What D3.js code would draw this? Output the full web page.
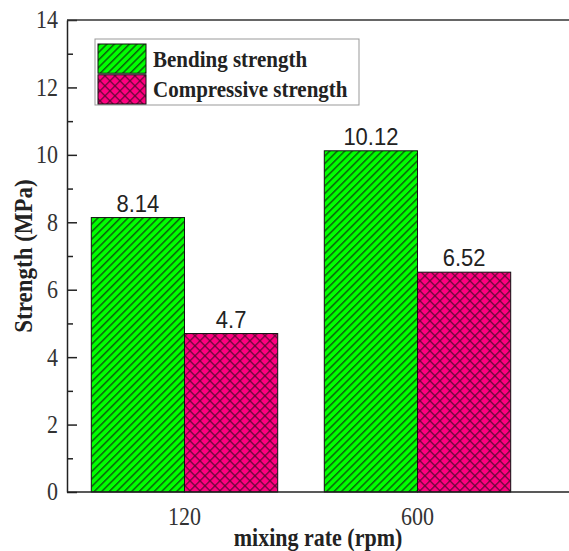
<!DOCTYPE html>
<html>
<head>
<meta charset="utf-8">
<script src="https://cdn.jsdelivr.net/npm/d3@7"></script>
<style>
  html, body { margin: 0; padding: 0; background: #fff; }
  svg { display: block; }
</style>
</head>
<body>
<svg id="chart" width="569" height="551"></svg>
<script>
const categories = ["120", "600"];
const seriesNames = ["Bending strength", "Compressive strength"];
const bendingValues = [8.14, 10.12];
const compressiveValues = [4.7, 6.52];
const valueLabels = [["8.14", "10.12"], ["4.7", "6.52"]];
const yTicks = [0, 2, 4, 6, 8, 10, 12, 14];
const yMinorTicks = [1, 3, 5, 7, 9, 11, 13];

const plot = { left: 67, top: 20, right: 575, bottom: 492 };
const svg = d3.select("#chart");
const serif = "'Liberation Serif', 'Times New Roman', serif";
const sans = "'Liberation Sans', Arial, sans-serif";
const fills = ["#00ff00", "#ff0080"];
const SY = 1.12; // vertical stretch of glyphs as in the reference

// place a text at (x,y) with a slight vertical stretch
function placed(sel, x, yy) {
  return sel.attr("x", 0).attr("y", 0)
    .attr("transform", `translate(${x},${yy}) scale(1,${SY})`);
}

// patterns
const defs = svg.append("defs");
const pg = defs.append("pattern").attr("id", "hatchGreen")
  .attr("patternUnits", "userSpaceOnUse").attr("width", 5.3).attr("height", 5.3)
  .attr("patternTransform", "rotate(45)");
pg.append("rect").attr("width", 5.3).attr("height", 5.3).attr("fill", fills[0]);
pg.append("line").attr("x1", 0.75).attr("y1", 0).attr("x2", 0.75).attr("y2", 5.3)
  .attr("stroke", "#0b5f0b").attr("stroke-width", 1.5);

const pp = defs.append("pattern").attr("id", "hatchPink")
  .attr("patternUnits", "userSpaceOnUse").attr("width", 7.07).attr("height", 7.07)
  .attr("patternTransform", "rotate(45)");
pp.append("rect").attr("width", 7.07).attr("height", 7.07).attr("fill", fills[1]);
pp.append("line").attr("x1", 0.6).attr("y1", 0).attr("x2", 0.6).attr("y2", 7.07)
  .attr("stroke", "#5a0a32").attr("stroke-width", 1.2);
pp.append("line").attr("x1", 0).attr("y1", 0.6).attr("x2", 7.07).attr("y2", 0.6)
  .attr("stroke", "#5a0a32").attr("stroke-width", 1.2);
const patternIds = ["url(#hatchGreen)", "url(#hatchPink)"];

// scales
const x0 = d3.scaleBand().domain(categories).range([68, 534])
  .paddingInner(0.2).paddingOuter(0.1);
const x1 = d3.scaleBand().domain(seriesNames).range([0, x0.bandwidth()]).padding(0);
const y = d3.scaleLinear().domain([0, 14]).range([plot.bottom, plot.top]);

const seriesValues = [bendingValues, compressiveValues];

// bars
seriesNames.forEach((s, si) => {
  const g = svg.append("g");
  g.selectAll("rect").data(categories).join("rect")
    .attr("x", (c) => x0(c) + x1(s))
    .attr("y", (c, i) => y(seriesValues[si][i]))
    .attr("width", x1.bandwidth())
    .attr("height", (c, i) => y(0) - y(seriesValues[si][i]))
    .attr("fill", patternIds[si])
    .attr("stroke", "#111").attr("stroke-width", 1);
  g.selectAll("text").data(categories).join("text")
    .attr("x", 0).attr("y", 0)
    .attr("transform", (c, i) =>
      `translate(${x0(c) + x1(s) + x1.bandwidth() / 2},${y(seriesValues[si][i]) - 6}) scale(1,${SY})`)
    .attr("text-anchor", "middle")
    .attr("font-family", sans).attr("font-size", 22).attr("fill", "#222")
    .text((c, i) => valueLabels[si][i]);
});

// y axis
const yAxis = d3.axisLeft(y).tickValues(yTicks).tickFormat(d3.format("d"))
  .tickSizeInner(-10).tickSizeOuter(0).tickPadding(9);
const gy = svg.append("g").attr("transform", `translate(${plot.left},0)`).call(yAxis);
gy.select(".domain").attr("stroke", "#222").attr("stroke-width", 1.5);
gy.selectAll(".tick line").attr("stroke", "#222").attr("stroke-width", 1.5);
gy.selectAll(".tick text").attr("font-family", serif).attr("font-size", 22).attr("fill", "#333")
  .attr("transform", `scale(1,${SY})`);

const yMinor = d3.axisLeft(y).tickValues(yMinorTicks).tickFormat("")
  .tickSizeInner(-6).tickSizeOuter(0);
const gym = svg.append("g").attr("transform", `translate(${plot.left},0)`).call(yMinor);
gym.select(".domain").remove();
gym.selectAll(".tick line").attr("stroke", "#222").attr("stroke-width", 1.5);

// x axis line and top frame
svg.append("line").attr("x1", plot.left).attr("x2", plot.right)
  .attr("y1", plot.bottom).attr("y2", plot.bottom).attr("stroke", "#222").attr("stroke-width", 1.5);
svg.append("line").attr("x1", plot.left).attr("x2", plot.right)
  .attr("y1", plot.top).attr("y2", plot.top).attr("stroke", "#333").attr("stroke-width", 1.5);

const xAxis = d3.axisBottom(x0).tickSize(0).tickPadding(0);
const gx = svg.append("g").attr("transform", `translate(0,${plot.bottom})`).call(xAxis);
gx.select(".domain").remove();
gx.selectAll(".tick text").attr("dy", null).attr("y", 0)
  .attr("transform", `translate(0,33) scale(1,${SY})`)
  .attr("font-family", serif).attr("font-size", 22).attr("fill", "#333");

// axis titles
placed(svg.append("text"), 318, 546).attr("text-anchor", "middle")
  .attr("font-family", serif).attr("font-weight", "bold").attr("font-size", 22)
  .attr("fill", "#222").text("mixing rate (rpm)");
svg.append("text").attr("transform", `translate(32,${(plot.top + plot.bottom) / 2}) rotate(-90) scale(1,${SY})`)
  .attr("text-anchor", "middle")
  .attr("font-family", serif).attr("font-weight", "bold").attr("font-size", 23)
  .attr("fill", "#222").text("Strength (MPa)");

// legend
const lg = svg.append("g");
lg.append("rect").attr("x", 95).attr("y", 39).attr("width", 264).attr("height", 66)
  .attr("fill", "#fff").attr("stroke", "#999").attr("stroke-width", 1);
const legendY = d3.scaleBand().domain(seriesNames).range([44, 104]).paddingInner(0.05);
seriesNames.forEach((s, si) => {
  lg.append("rect").attr("x", 98).attr("y", legendY(s)).attr("width", 48)
    .attr("height", legendY.bandwidth())
    .attr("fill", patternIds[si]).attr("stroke", "#111").attr("stroke-width", 1);
  placed(lg.append("text"), 153, legendY(s) + legendY.bandwidth() / 2 + 8)
    .attr("font-family", serif).attr("font-weight", "bold").attr("font-size", 21)
    .attr("fill", "#222").text(s);
});
</script>
</body>
</html>
